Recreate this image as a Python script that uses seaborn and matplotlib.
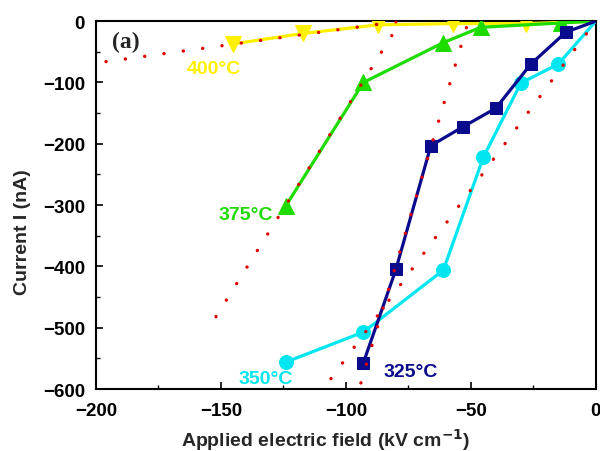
import numpy as np
import pandas as pd
import matplotlib
matplotlib.use("Agg")
import matplotlib.pyplot as plt
import seaborn as sns
from matplotlib.ticker import MultipleLocator

# Measured I-E curves at four temperatures (last point of each is the origin)
field_400 = [-145, -117, -87, -57, -28, 0]
current_400 = [-37, -20, -6, -4, -4, 0]

field_375 = [-124, -93, -61, -46, -14, 0]
current_375 = [-301, -100, -35, -10, -3, 0]

field_350 = [-124, -93, -61, -45, -30, -15, 0]
current_350 = [-556, -507, -406, -222, -101, -70, 0]

field_325 = [-93, -80, -66, -53, -40, -26, -12, 0]
current_325 = [-557, -405, -203, -172, -142, -70, -18, 0]

# Linear fits (end points of each fitted segment)
fit_400_field = [-196, -78]
fit_400_current = [-66, 0]
fit_375_field = [-152, -78]
fit_375_current = [-482, 0]
fit_350_field = [-106, 0]
fit_350_current = [-583, 0]
fit_325_field = [-94, -51]
fit_325_current = [-590, 0]

labels = ["400°C", "375°C", "350°C", "325°C"]

sns.set_theme(style="white")
plt.rcParams["font.family"] = ["Liberation Sans", "DejaVu Sans"]

fig = plt.figure(figsize=(6.0, 4.52), dpi=100)
ax = fig.add_axes([0.16, 0.137, 0.833, 0.814])

series = [
    (field_400, current_400, "#FFF000", "v", 11),
    (field_375, current_375, "#1EDC00", "^", 11),
    (field_350, current_350, "#00E6F0", "o", 10),
    (field_325, current_325, "#0A0A8C", "s", 8),
]
for fx, cy, col, mk, ms in series:
    # line runs to the origin, markers only on measured points
    sns.lineplot(x=fx, y=cy, ax=ax, color=col, marker=mk, markersize=ms,
                 markeredgecolor=col, linewidth=2.3, sort=False, zorder=3,
                 markevery=list(range(len(fx) - 1)))

fits = [
    (fit_400_field, fit_400_current),
    (fit_375_field, fit_375_current),
    (fit_350_field, fit_350_current),
    (fit_325_field, fit_325_current),
]
for fx, cy in fits:
    ax.plot(fx, cy, color="#E00000", linewidth=2.4,
            linestyle=(0, (0.05, 5.8)), dash_capstyle="round", zorder=5)

label_style = dict(fontsize=14, fontweight="bold", ha="center", va="center")
ax.text(-153, -77, labels[0], color="#FFF000", **label_style)
ax.text(-140, -315, labels[1], color="#1EDC00", **label_style)
ax.text(-132, -582, labels[2], color="#00E6F0", clip_on=True, **label_style)
ax.text(-74, -572, labels[3], color="#0A0A8C", **label_style)

ax.text(-193.5, -33, "(a)", fontsize=17, fontweight="bold",
        family=["Liberation Serif", "DejaVu Serif"], ha="left", va="center")

ax.set_xlim(-200, 0)
ax.set_ylim(-600, 0)
ax.xaxis.set_major_locator(MultipleLocator(50))
ax.xaxis.set_minor_locator(MultipleLocator(25))
ax.yaxis.set_major_locator(MultipleLocator(100))
ax.yaxis.set_minor_locator(MultipleLocator(50))
ax.tick_params(axis="both", which="major", direction="in", length=5, width=1.2,
               colors="black", labelsize=13.5, bottom=True, left=True)
ax.tick_params(axis="x", which="major", pad=9)
ax.tick_params(axis="y", which="major", pad=8)
ax.tick_params(axis="both", which="minor", direction="in", length=3, width=1.0,
               colors="black", bottom=True, left=True)
for lab in ax.get_xticklabels() + ax.get_yticklabels():
    lab.set_fontweight("bold")

for sp in ax.spines.values():
    sp.set_color("black")
    sp.set_linewidth(1.5)

ax.set_xlabel("Applied electric field (kV cm$^{\\mathbf{-1}}$)", fontsize=14,
              fontweight="bold")
ax.set_ylabel("Current I (nA)", fontsize=14, fontweight="bold")
ax.xaxis.set_label_coords(0.46, -0.1)
ax.yaxis.set_label_coords(-0.13, 0.43)

fig.savefig("out.png", dpi=100)
